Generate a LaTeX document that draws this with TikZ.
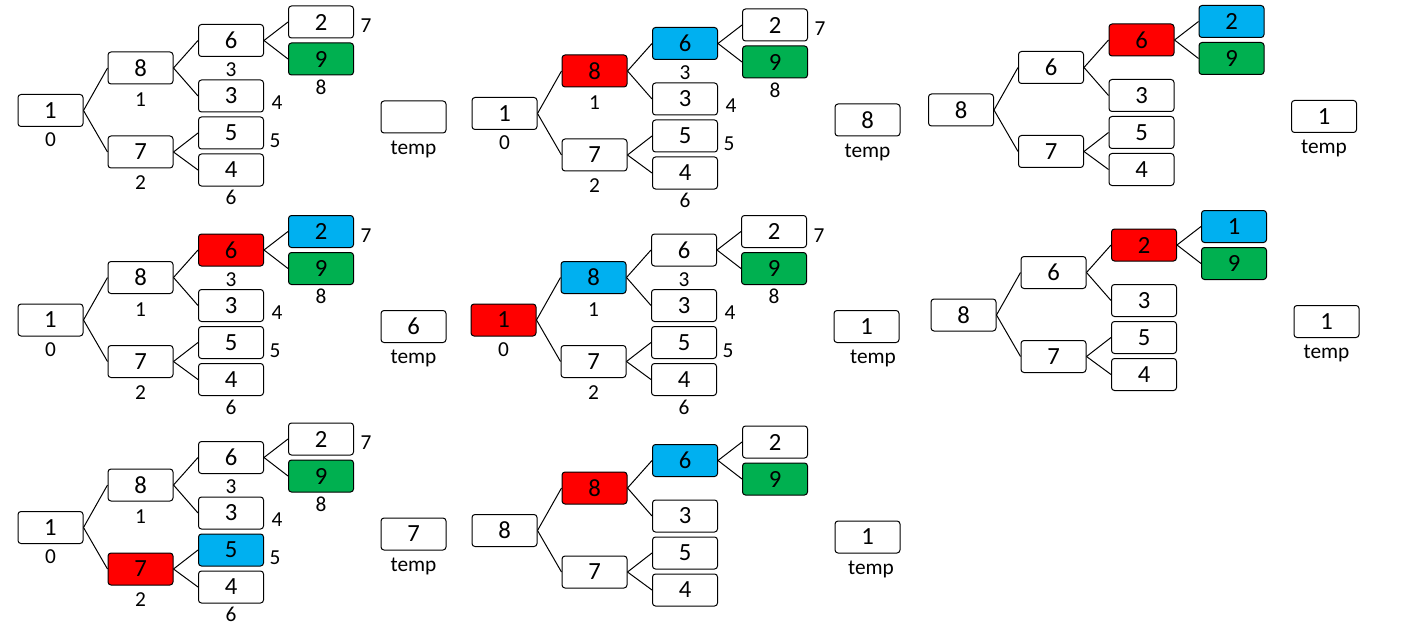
\documentclass[tikz,border=0pt]{standalone}
\usepackage{fontspec}
\setmainfont{Carlito}
\definecolor{hred}{HTML}{FF0000}
\definecolor{hblue}{HTML}{00B0F0}
\definecolor{hgreen}{HTML}{00B050}
\tikzset{
  cell/.style={draw=black, line width=0.75pt, rounded corners=2.25pt,
    minimum width=48.75pt, minimum height=24pt, inner sep=0pt,
    font=\fontsize{18.5}{20}\selectfont},
  idx/.style={inner sep=0pt, font=\fontsize{16}{18}\selectfont},
  link/.style={line width=0.75pt, draw=black},
}
% #1 prefix, #2 shift, #3 list value/colour (9 cells), #4 temp value,
% #5 show index labels (1/0), #6 temp label x shift
\newcommand\heappanel[6]{%
  \begin{scope}[shift={#2}]
    \coordinate (#1p0) at (50.5,110.5);
    \coordinate (#1p1) at (140.5,68);
    \coordinate (#1p2) at (140.5,152);
    \coordinate (#1p3) at (231,40.5);
    \coordinate (#1p4) at (231,96);
    \coordinate (#1p5) at (231,133);
    \coordinate (#1p6) at (231,170);
    \coordinate (#1p7) at (321,22);
    \coordinate (#1p8) at (321,59);
    \foreach \cv/\cc [count=\ci from 0] in {#3} {
      \node[cell, fill=\cc] (#1n\ci) at (#1p\ci) {\cv};
    }
    \node[cell, fill=white] (#1t) at (413.5,117) {#4};
    \node[idx] (#1tl) at (413.5+#6,149) {temp};
    \draw[link] (#1n0.east) -- (#1n1.west);
    \draw[link] (#1n0.east) -- (#1n2.west);
    \draw[link] (#1n1.east) -- (#1n3.west);
    \draw[link] (#1n1.east) -- (#1n4.west);
    \draw[link] (#1n2.east) -- (#1n5.west);
    \draw[link] (#1n2.east) -- (#1n6.west);
    \draw[link] (#1n3.east) -- (#1n7.west);
    \draw[link] (#1n3.east) -- (#1n8.west);
    \ifnum#5=1\relax
      \node[idx] (#1i0) at (50.5,140) {0};
      \node[idx] (#1i1) at (140.5,100) {1};
      \node[idx] (#1i2) at (140.5,183) {2};
      \node[idx] (#1i3) at (231,70) {3};
      \node[idx] (#1i4) at (277,103) {4};
      \node[idx] (#1i5) at (275,141) {5};
      \node[idx] (#1i6) at (231,197.5) {6};
      \node[idx] (#1i7) at (366,26) {7};
      \node[idx] (#1i8) at (321,87) {8};
    \fi
  \end{scope}}
\begin{document}
\begin{tikzpicture}[x=0.75pt, y=-0.75pt]
  \useasboundingbox (0,0) rectangle (1416,624);
  \heappanel{A}{(0,0)}{1/white,8/white,7/white,6/white,3/white,5/white,4/white,2/white,9/hgreen}{}{1}{0}
  \heappanel{B}{(454,3)}{1/white,8/hred,7/white,6/hblue,3/white,5/white,4/white,2/white,9/hgreen}{8}{1}{0}
  \heappanel{C}{(910.5,-0.5)}{8/white,6/white,7/white,6/hred,3/white,5/white,4/white,2/hblue,9/hgreen}{1}{0}{0}
  \heappanel{D}{(0,209.5)}{1/white,8/white,7/white,6/hred,3/white,5/white,4/white,2/hblue,9/hgreen}{6}{1}{0}
  \heappanel{E}{(453,209.5)}{1/hred,8/hblue,7/white,6/white,3/white,5/white,4/white,2/white,9/hgreen}{1}{1}{6.5}
  \heappanel{F}{(913,204.5)}{8/white,6/white,7/white,2/hred,3/white,5/white,4/white,1/hblue,9/hgreen}{1}{0}{0}
  \heappanel{G}{(0,417)}{1/white,8/white,7/hred,6/white,3/white,5/hblue,4/white,2/white,9/hgreen}{7}{1}{0}
  \heappanel{H}{(454,420)}{8/white,8/hred,7/white,6/hblue,3/white,5/white,4/white,2/white,9/hgreen}{1}{0}{3.5}
\end{tikzpicture}
\end{document}
